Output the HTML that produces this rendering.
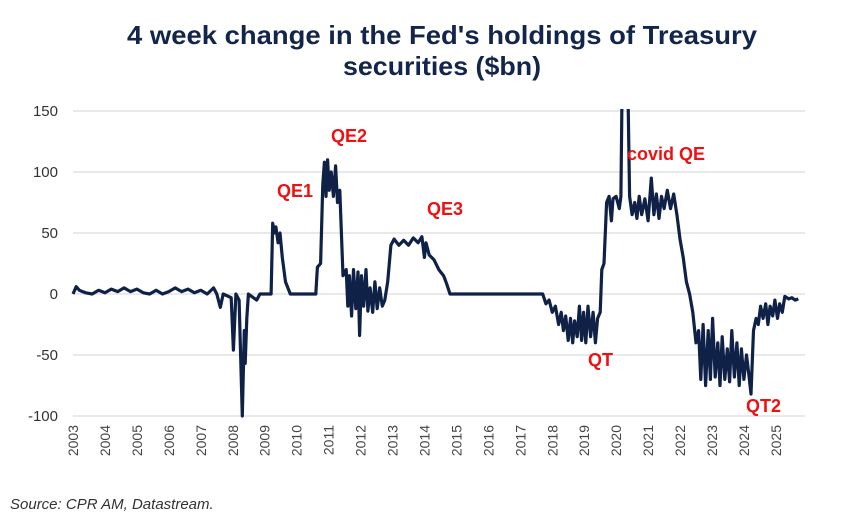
<!DOCTYPE html>
<html><head><meta charset="utf-8"><style>
body{margin:0;background:#fff;}
svg{display:block;font-family:"Liberation Sans",sans-serif;}
</style></head><body>
<svg width="845" height="530" viewBox="0 0 845 530">
<text x="442" y="44" text-anchor="middle" font-size="26" font-weight="bold" fill="#13254a" textLength="630" lengthAdjust="spacingAndGlyphs">4 week change in the Fed's holdings of Treasury</text>
<text x="442" y="75" text-anchor="middle" font-size="26" font-weight="bold" fill="#13254a" textLength="198" lengthAdjust="spacingAndGlyphs">securities ($bn)</text>
<g id="grid"></g>
<g id="yt"></g>
<g id="xt"></g>
<defs><clipPath id="cp"><rect x="60" y="109" width="760" height="309"/></clipPath></defs>
<path id="line" clip-path="url(#cp)" fill="none" stroke="#0f2147" stroke-width="3.2" stroke-linejoin="round"/>
<g font-size="18" font-weight="bold" fill="#ee1111">
<text x="277" y="197">QE1</text>
<text x="331" y="142">QE2</text>
<text x="427" y="215">QE3</text>
<text x="627" y="160">covid QE</text>
<text x="588" y="366">QT</text>
<text x="746" y="412">QT2</text>
</g>
<text x="10" y="509" font-size="15" font-style="italic" fill="#333">Source: CPR AM, Datastream.</text>
</svg>
<script>
const yTicks=[150,100,50,0,-50,-100];
const years=[2003,2004,2005,2006,2007,2008,2009,2010,2011,2012,2013,2014,2015,2016,2017,2018,2019,2020,2021,2022,2023,2024,2025];
const dates=[2003.0,2003.1,2003.2,2003.3,2003.4,2003.6,2003.8,2004.0,2004.2,2004.4,2004.6,2004.8,2005.0,2005.2,2005.4,2005.6,2005.8,2006.0,2006.2,2006.4,2006.6,2006.8,2007.0,2007.2,2007.4,2007.5,2007.61,2007.7,2007.95,2008.02,2008.1,2008.2,2008.3,2008.36,2008.39,2008.44,2008.49,2008.75,2008.85,2009.2,2009.25,2009.3,2009.35,2009.42,2009.48,2009.55,2009.65,2009.8,2010.6,2010.65,2010.75,2010.82,2010.87,2010.92,2010.97,2011.02,2011.08,2011.15,2011.22,2011.28,2011.35,2011.45,2011.55,2011.6,2011.65,2011.72,2011.78,2011.85,2011.92,2011.97,2012.03,2012.1,2012.17,2012.23,2012.3,2012.38,2012.45,2012.52,2012.6,2012.68,2012.76,2012.85,2012.95,2013.05,2013.2,2013.35,2013.5,2013.65,2013.8,2013.92,2014.0,2014.05,2014.15,2014.3,2014.45,2014.6,2014.7,2014.8,2017.7,2017.8,2017.9,2018.0,2018.1,2018.2,2018.28,2018.35,2018.42,2018.5,2018.57,2018.64,2018.7,2018.78,2018.85,2018.92,2018.98,2019.05,2019.12,2019.2,2019.28,2019.35,2019.42,2019.5,2019.55,2019.62,2019.7,2019.78,2019.85,2019.9,2020.0,2020.1,2020.15,2020.2,2020.3,2020.36,2020.42,2020.5,2020.58,2020.65,2020.72,2020.8,2020.9,2021.0,2021.1,2021.18,2021.26,2021.34,2021.42,2021.5,2021.6,2021.7,2021.8,2021.9,2022.0,2022.1,2022.2,2022.3,2022.4,2022.5,2022.58,2022.65,2022.72,2022.8,2022.88,2022.95,2023.02,2023.1,2023.18,2023.25,2023.32,2023.4,2023.48,2023.55,2023.62,2023.7,2023.78,2023.85,2023.92,2024.0,2024.08,2024.15,2024.22,2024.3,2024.38,2024.45,2024.52,2024.6,2024.68,2024.75,2024.82,2024.9,2024.97,2025.05,2025.12,2025.2,2025.28,2025.4,2025.5,2025.6,2025.7];
const values=[0,6,3,2,1,0,3,1,4,2,5,2,4,1,0,3,0,2,5,2,4,1,3,0,5,0,-11,0,-3,-46,0,-5,-100,-30,-57,-20,0,-5,0,0,58,50,55,42,50,30,10,0,0,22,25,90,108,80,110,85,100,80,105,75,85,15,20,-10,15,-18,20,-12,18,-34,15,-10,20,-14,5,-15,10,-12,5,-10,-5,10,40,45,40,44,40,46,42,47,30,42,32,28,20,15,8,0,0,-8,-5,-15,-10,-25,-15,-30,-18,-38,-20,-40,-22,-35,-10,-38,-15,-40,-10,-35,-15,-40,-20,-15,20,25,75,80,60,78,80,70,80,200,300,180,80,65,75,62,80,65,78,60,95,65,82,62,80,70,85,70,82,65,45,30,10,0,-15,-40,-30,-70,-25,-75,-30,-70,-20,-68,-40,-75,-35,-70,-45,-72,-30,-68,-40,-75,-45,-70,-50,-65,-82,-30,-20,-25,-10,-20,-8,-25,-10,-18,-5,-20,-8,-15,-2,-4,-3,-5,-4];
const NS='http://www.w3.org/2000/svg';
function xs(t){return 73+(t-2003)*31.95;}
function ys(v){return 294-v*1.22;}
const grid=document.getElementById('grid'),yt=document.getElementById('yt'),xt=document.getElementById('xt');
yTicks.forEach(v=>{
  const l=document.createElementNS(NS,'line');
  l.setAttribute('x1',73);l.setAttribute('x2',805);l.setAttribute('y1',ys(v));l.setAttribute('y2',ys(v));
  l.setAttribute('stroke','#dcdcdc');l.setAttribute('stroke-width','1.3');
  
  
  grid.appendChild(l);
  const t=document.createElementNS(NS,'text');
  t.setAttribute('x',58);t.setAttribute('y',ys(v)+5);t.setAttribute('text-anchor','end');
  t.setAttribute('font-size','15');t.setAttribute('fill','#333');t.textContent=v;
  
  
  yt.appendChild(t);
});
years.forEach(y=>{
  const t=document.createElementNS(NS,'text');
  const x=xs(y)+5;
  t.setAttribute('transform','translate('+x+',425) rotate(-90)');
  t.setAttribute('text-anchor','end');t.setAttribute('font-size','14');t.setAttribute('fill','#444');
  t.textContent=y;
  
  
  xt.appendChild(t);
});
let d='';
dates.forEach((t,i)=>{d+=(i?'L':'M')+xs(t).toFixed(1)+','+ys(values[i]).toFixed(1);});
document.getElementById('line').setAttribute('d',d);
</script>
</body></html>
